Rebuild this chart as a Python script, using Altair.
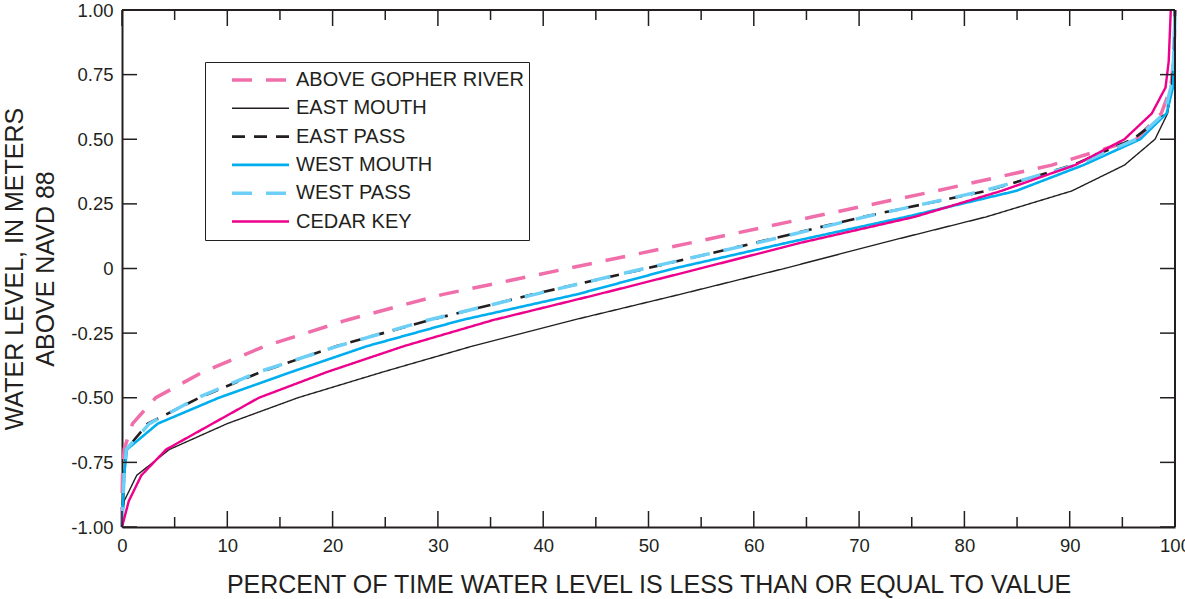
import altair as alt
import pandas as pd

# ---- data ----
sites = ["ABOVE GOPHER RIVER", "EAST MOUTH", "EAST PASS", "WEST MOUTH", "WEST PASS", "CEDAR KEY"]

levels = [-1.0, -0.9, -0.8, -0.7, -0.6, -0.5, -0.4, -0.3, -0.2, -0.1, 0.0,
          0.1, 0.2, 0.3, 0.4, 0.5, 0.6, 0.7, 0.8, 0.9, 1.0]

above_gopher = [0, 0, 0.05, 0.2, 1.0, 3.2, 7.7, 13.6, 21.3, 30.5, 42.3,
                54.1, 65.6, 77.3, 88.3, 96.3, 98.7, 99.6, 99.85, 99.95, 100]
east_mouth = [0, 0.2, 1.4, 4.5, 10.0, 16.7, 24.8, 33.3, 42.8, 53.0, 62.9,
              72.3, 82.1, 90.2, 95.2, 98.1, 99.3, 99.7, 99.85, 99.95, 100]
east_pass = [0, 0.1, 0.2, 0.4, 2.45, 7.35, 13.2, 20.4, 29.2, 39.0, 49.8,
             60.2, 70.4, 82.1, 90.3, 96.0, 99.2, 99.7, 99.85, 99.95, 100]
west_mouth = [0, 0.1, 0.2, 0.47, 3.4, 9.2, 16.1, 23.3, 32.2, 43.2, 52.4,
              63.2, 74.5, 84.9, 91.3, 96.7, 99.2, 99.8, 99.9, 99.95, 100]
west_pass = [0, 0.1, 0.2, 0.4, 2.6, 7.2, 13.0, 20.5, 29.0, 39.2, 49.6,
             60.4, 70.6, 81.8, 90.6, 96.3, 99.0, 99.6, 99.85, 99.95, 100]
cedar_key = [0, 0.64, 1.84, 4.2, 8.6, 13.0, 19.5, 26.8, 35.2, 45.2, 54.9,
             64.5, 75.3, 83.5, 90.5, 95.2, 97.8, 99.1, 99.4, 99.5, 99.6]

x_major = [0, 10, 20, 30, 40, 50, 60, 70, 80, 90, 100]
x_minor = [5, 15, 25, 35, 45, 55, 65, 75, 85, 95]
y_ticks = [-1.0, -0.75, -0.5, -0.25, 0.0, 0.25, 0.5, 0.75, 1.0]

# ---- styles ----
colors = ["#F06EAA", "#231F20", "#231F20", "#00AEEF", "#6DCFF6", "#EC008C"]
dashes = [[20, 14], [1, 0], [13, 9], [1, 0], [20, 14], [1, 0]]
widths = [3.5, 1.4, 2.6, 2.6, 3.5, 2.4]

series = [above_gopher, east_mouth, east_pass, west_mouth, west_pass, cedar_key]
rows = []
for s, vals in zip(sites, series):
    for lv, p in zip(levels, vals):
        rows.append({"site": s, "level": lv, "percent": p})
df = pd.DataFrame(rows)

W, H = 1053, 517
FONT = "Liberation Sans"
INK = "#231F20"

leg = alt.Legend(
    title=None, orient="none", legendX=83, legendY=52,
    symbolType="stroke", symbolSize=3249, symbolOffset=20, clipHeight=26,
    labelOffset=5, labelFontSize=20, labelFont=FONT, labelColor=INK,
    labelLimit=0, padding=5, rowPadding=2.3, strokeColor=INK,
)

XTITLE = "PERCENT OF TIME WATER LEVEL IS LESS THAN OR EQUAL TO VALUE"
YTITLE = ["WATER LEVEL, IN METERS", "ABOVE NAVD 88"]

axis_style = dict(
    domain=True, domainColor=INK, domainWidth=2,
    ticks=False, grid=False, labelFlush=False,
    labelFont=FONT, labelFontSize=18.5, labelColor=INK,
    titleFont=FONT, titleFontSize=25, titleFontWeight="normal", titleColor=INK,
)

lines = alt.Chart(df).mark_line().encode(
    x=alt.X("percent:Q", title=XTITLE,
            scale=alt.Scale(domain=[0, 100], nice=False, zero=False),
            axis=alt.Axis(values=x_major, format="d",
                          labelPadding=9, titleY=65, titleBaseline="alphabetic",
                          **axis_style)),
    y=alt.Y("level:Q", title=YTITLE,
            scale=alt.Scale(domain=[-1, 1], nice=False, zero=False),
            axis=alt.Axis(values=y_ticks,
                          labelExpr="datum.value == 0 ? '0' : (datum.value < 0 ? '-' + format(-datum.value, '.2f') : format(datum.value, '.2f'))",
                          labelPadding=9, titleX=-108, titleBaseline="middle",
                          titleLineHeight=31, **axis_style)),
    color=alt.Color("site:N", scale=alt.Scale(domain=sites, range=colors), legend=leg),
    strokeDash=alt.StrokeDash("site:N", scale=alt.Scale(domain=sites, range=dashes), legend=leg),
    strokeWidth=alt.StrokeWidth("site:N", scale=alt.Scale(type="ordinal", domain=sites, range=widths), legend=leg),
    order=alt.Order("level:Q"),
)

df_xmaj = pd.DataFrame({"percent": x_major})
df_xmin = pd.DataFrame({"percent": x_minor})
df_y = pd.DataFrame({"level": y_ticks})
df_top = pd.DataFrame({"level": [y_ticks[-1]]})
df_right = pd.DataFrame({"percent": [x_major[-1]]})

t_bot_maj = alt.Chart(df_xmaj).mark_rule(color=INK, strokeWidth=1.5).encode(
    x=alt.X("percent:Q", title=XTITLE), y=alt.value(H), y2=alt.value(H - 16))
t_top_maj = alt.Chart(df_xmaj).mark_rule(color=INK, strokeWidth=1.5).encode(
    x=alt.X("percent:Q", title=XTITLE), y=alt.value(0), y2=alt.value(16))
t_bot_min = alt.Chart(df_xmin).mark_rule(color=INK, strokeWidth=1.5).encode(
    x=alt.X("percent:Q", title=XTITLE), y=alt.value(H), y2=alt.value(H - 10))
t_top_min = alt.Chart(df_xmin).mark_rule(color=INK, strokeWidth=1.5).encode(
    x=alt.X("percent:Q", title=XTITLE), y=alt.value(0), y2=alt.value(10))
t_left = alt.Chart(df_y).mark_rule(color=INK, strokeWidth=1.5).encode(
    y=alt.Y("level:Q", title=YTITLE), x=alt.value(0), x2=alt.value(15))
t_right = alt.Chart(df_y).mark_rule(color=INK, strokeWidth=1.5).encode(
    y=alt.Y("level:Q", title=YTITLE), x=alt.value(W), x2=alt.value(W - 15))

# top and right edges of the frame
f_top = alt.Chart(df_top).mark_rule(color=INK, strokeWidth=2).encode(
    y=alt.Y("level:Q", title=YTITLE), x=alt.value(0), x2=alt.value(W))
f_right = alt.Chart(df_right).mark_rule(color=INK, strokeWidth=2).encode(
    x=alt.X("percent:Q", title=XTITLE), y=alt.value(0), y2=alt.value(H))

chart = alt.layer(
    lines, t_bot_maj, t_top_maj, t_bot_min, t_top_min, t_left, t_right, f_top, f_right
).properties(
    width=W, height=H,
    padding={"left": 122, "top": 10, "right": 10, "bottom": 72},
    autosize=alt.AutoSizeParams(type="none"),
)

chart.save("out.html", embed_options={"renderer": "svg", "actions": False})
